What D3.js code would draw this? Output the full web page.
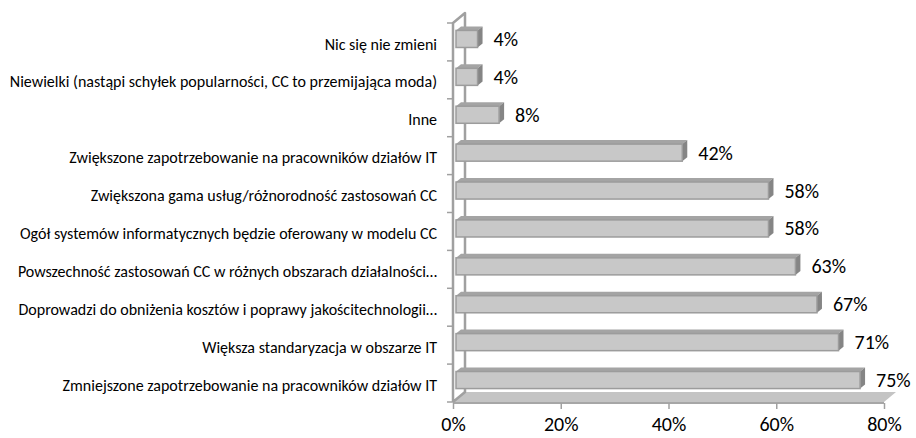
<!DOCTYPE html>
<html>
<head>
<meta charset="utf-8">
<script src="https://cdn.jsdelivr.net/npm/d3@7"></script>
<style>
  body { margin: 0; background: #fff; }
  svg text { font-family: Carlito, Calibri, Lato, sans-serif; fill: #000; }
</style>
</head>
<body>
<div id="chart"></div>
<script>
// categories top to bottom, as in the picture
var categories = [
  "Nic się nie zmieni",
  "Niewielki (nastąpi schyłek popularności, CC to przemijająca moda)",
  "Inne",
  "Zwiększone zapotrzebowanie na pracowników działów IT",
  "Zwiększona gama usług/różnorodność zastosowań CC",
  "Ogół systemów informatycznych będzie oferowany w modelu CC",
  "Powszechność zastosowań CC w różnych obszarach działalności…",
  "Doprowadzi do obniżenia kosztów i poprawy jakościtechnologii…",
  "Większa standaryzacja w obszarze IT",
  "Zmniejszone zapotrzebowanie na pracowników działów IT"
];
var values = [0.04, 0.04, 0.08, 0.42, 0.58, 0.58, 0.63, 0.67, 0.71, 0.75];
var xTicks = [0, 0.2, 0.4, 0.6, 0.8];

var width = 916, height = 438;
var margin = {top: 23, right: 32, bottom: 36, left: 453};
// depth of the side wall / floor and of a bar
var wall = {dx: 12, dy: -10};
var bd = {dx: 5, dy: -4};

var svg = d3.select("#chart")
  .append("svg")
    .attr("width", width)
    .attr("height", height);

var x = d3.scaleLinear()
  .domain([0, 0.8])
  .range([margin.left, width - margin.right]);

var y = d3.scaleBand()
  .domain(categories)
  .range([margin.top, height - margin.bottom])
  .paddingInner(0.55)
  .paddingOuter(0.275);

var y0 = margin.top, y1 = height - margin.bottom;
var x0 = x(0), x1 = x(0.8);

// floor
svg.append("path")
  .attr("d", "M" + x0 + "," + y1 + "L" + (x0 + wall.dx) + "," + (y1 + wall.dy) +
             "L" + (x1 + wall.dx) + "," + (y1 + wall.dy) + "L" + x1 + "," + y1 + "Z")
  .attr("fill", "#c4c4c4");
svg.append("line")
  .attr("x1", x0).attr("x2", x1).attr("y1", y1 + 1).attr("y2", y1 + 1)
  .attr("stroke", "#a6a6a6").attr("stroke-width", 2);

// side wall outline
svg.append("path")
  .attr("d", "M" + x0 + "," + y1 + "L" + x0 + "," + y0 +
             "L" + (x0 + wall.dx) + "," + (y0 + wall.dy) +
             "L" + (x0 + wall.dx) + "," + (y1 + wall.dy) + "L" + x0 + "," + y1)
  .attr("fill", "none")
  .attr("stroke", "#a0a0a0")
  .attr("stroke-width", 2.5)
  .attr("stroke-linejoin", "round");

// category ticks on the left
var bounds = d3.range(categories.length + 1).map(function(i) { return y0 + i * y.step(); });
svg.selectAll(".ytick")
  .data(bounds)
  .enter().append("line")
    .attr("class", "ytick")
    .attr("x1", x0 - 6).attr("x2", x0)
    .attr("y1", function(d) { return d; })
    .attr("y2", function(d) { return d; })
    .attr("stroke", "#a0a0a0")
    .attr("stroke-width", 1.5);

// x axis
var xAxis = svg.append("g")
  .attr("transform", "translate(0," + (y1 + 1) + ")")
  .call(d3.axisBottom(x).tickValues(xTicks).tickFormat(d3.format(".0%")).tickSize(6).tickPadding(8));
xAxis.select(".domain").remove();
xAxis.selectAll("line").attr("stroke", "#a0a0a0").attr("stroke-width", 1.5);
xAxis.selectAll("text").style("font-size", "20px").attr("fill", "#000");

// bars
var off = {dx: 3, dy: -3};
var bars = svg.selectAll(".bar")
  .data(categories)
  .enter().append("g")
    .attr("class", "bar");

bars.each(function(d, i) {
  var g = d3.select(this);
  var bx = x0 + off.dx, bx2 = x(values[i]) + off.dx;
  var by = y(d) + off.dy, bh = y.bandwidth();
  // top face
  g.append("path")
    .attr("d", "M" + bx + "," + by + "L" + (bx + bd.dx) + "," + (by + bd.dy) +
               "L" + (bx2 + bd.dx) + "," + (by + bd.dy) + "L" + bx2 + "," + by + "Z")
    .attr("fill", "#a4a4a4");
  // side face
  g.append("path")
    .attr("d", "M" + bx2 + "," + by + "L" + (bx2 + bd.dx) + "," + (by + bd.dy) +
               "L" + (bx2 + bd.dx) + "," + (by + bh + bd.dy) + "L" + bx2 + "," + (by + bh) + "Z")
    .attr("fill", "#858585");
  // front face
  g.append("rect")
    .attr("x", bx).attr("y", by)
    .attr("width", bx2 - bx).attr("height", bh)
    .attr("fill", "#c8c8c8")
    .attr("stroke", "#9c9c9c")
    .attr("stroke-width", 1.5);
  // value label
  g.append("text")
    .attr("x", bx2 + bd.dx + 11)
    .attr("y", by + bh / 2)
    .attr("dy", "0.35em")
    .style("font-size", "20px")
    .text(d3.format(".0%")(values[i]));
});

// category labels
svg.selectAll(".cat")
  .data(categories)
  .enter().append("text")
    .attr("class", "cat")
    .attr("x", 437)
    .attr("y", function(d) { return y(d) + y.bandwidth() / 2 + 2; })
    .attr("dy", "0.35em")
    .attr("text-anchor", "end")
    .style("font-size", "16px")
    .text(function(d) { return d; });
</script>
</body>
</html>
